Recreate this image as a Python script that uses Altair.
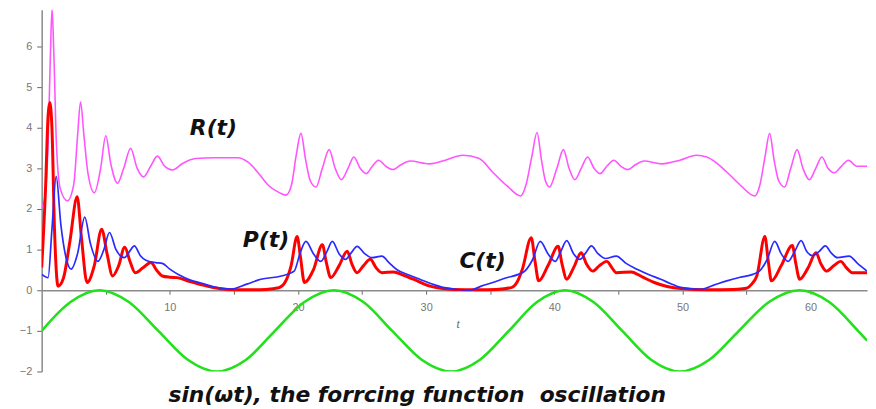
import altair as alt
import pandas as pd

# ---- data ----
R_t = [0, 0.25, 0.5, 0.68, 0.81, 0.95, 1.15, 1.45, 2.0, 2.5, 2.8, 3.03, 3.3, 3.6, 4.11, 4.6, 5.0, 5.4, 5.91,
       6.4, 6.94, 7.45, 7.95, 8.5, 9.03, 9.6, 10.2, 11.0, 12.0, 13.5, 15.3, 16.1, 17.0, 17.66, 18.43, 19.07,
       19.5, 19.85, 20.23, 20.6, 20.95, 21.4, 21.9, 22.43, 22.9, 23.38, 23.9, 24.36, 24.85, 25.33, 25.8, 26.29,
       26.85, 27.4, 28.0, 28.73, 30.28, 31.5, 32.86, 34.14, 35.18, 36.34, 37.37, 37.8, 38.25, 38.65, 39.0, 39.3,
       39.63, 40.2, 40.71, 41.15, 41.6, 42.1, 42.6, 43.1, 43.55, 44.1, 44.65, 45.2, 45.73, 46.3, 47.0, 48.4,
       49.8, 51.1, 51.9, 53.46, 54.5, 55.66, 56.05, 56.45, 56.8, 57.15, 57.5, 57.97, 58.45, 58.95, 59.4, 59.9,
       60.4, 60.88, 61.35, 61.84, 62.4, 62.95, 63.6, 64.4]
R_v = [2.02, 2.3, 3.6, 5.8, 6.93, 5.8, 3.6, 2.5, 2.2, 2.6, 3.8, 4.63, 3.8, 2.9, 2.4, 3.0, 3.8, 3.1, 2.63,
       3.0, 3.49, 3.0, 2.79, 3.05, 3.3, 3.05, 2.96, 3.12, 3.24, 3.26, 3.26, 3.15, 2.85, 2.59, 2.42, 2.34,
       2.6, 3.3, 3.86, 3.2, 2.7, 2.54, 3.0, 3.46, 3.0, 2.72, 3.0, 3.28, 3.0, 2.87, 3.05, 3.2,
       3.05, 2.97, 3.08, 3.18, 3.11, 3.2, 3.32, 3.24, 2.91, 2.56, 2.32, 2.6, 3.3, 3.88, 3.2, 2.7,
       2.54, 3.0, 3.46, 3.0, 2.72, 3.0, 3.28, 3.0, 2.87, 3.05, 3.2, 3.05, 2.97, 3.08, 3.18, 3.11,
       3.2, 3.32, 3.28, 2.91, 2.59, 2.32, 2.6, 3.3, 3.86, 3.2, 2.7, 2.54, 3.0, 3.46, 3.0, 2.72,
       3.0, 3.28, 3.0, 2.89, 3.05, 3.2, 3.05, 3.05]

P_t = [0, 0.3, 0.5, 0.63, 0.8, 1.0, 1.28, 1.7, 2.2, 2.77, 3.1, 3.54, 4.1, 4.68, 5.1, 5.53, 6.0, 6.48, 6.9,
       7.3, 7.9, 8.52, 9.0, 9.41, 10.0, 10.57, 11.5, 12.5, 13.3, 14.5, 16.0, 17.5, 18.5, 19.0, 19.46, 19.93,
       20.2, 20.5, 21.2, 21.9, 22.2, 22.55, 23.2, 23.84, 24.2, 24.6, 25.1, 25.64, 26.1, 26.55, 27.45, 28.2,
       29.0, 30.3, 32.1, 34.0, 35.5, 36.7, 37.1, 37.5, 38.2, 38.5, 38.78, 39.5, 40.3, 40.6, 40.97, 41.5,
       42.1, 42.5, 43.0, 43.5, 44.1, 44.5, 44.84, 46.0, 46.9, 47.8, 49.86, 52.0, 54.0, 55.0, 55.4, 55.8,
       56.43, 56.7, 56.94, 57.7, 58.57, 58.85, 59.14, 59.8, 60.42, 60.8, 61.24, 61.8, 62.35, 62.8, 63.25, 64.4]
P_v = [0.56, 2.5, 4.3, 4.62, 4.0, 1.5, 0.1, 0.3, 1.2, 2.3, 1.3, 0.19, 0.6, 1.5, 0.9, 0.35, 0.6, 1.06, 0.7,
       0.43, 0.55, 0.68, 0.48, 0.35, 0.32, 0.31, 0.22, 0.13, 0.07, 0.02, 0.01, 0.02, 0.06, 0.2, 0.6, 1.32,
       0.8, 0.19, 0.5, 1.12, 0.7, 0.31, 0.6, 0.96, 0.65, 0.43, 0.6, 0.76, 0.55, 0.43, 0.45, 0.37,
       0.27, 0.1, 0.02, 0.01, 0.02, 0.07, 0.2, 0.51, 1.29, 0.7, 0.23, 0.6, 1.08, 0.65, 0.27, 0.55,
       0.92, 0.65, 0.47, 0.6, 0.71, 0.55, 0.43, 0.45, 0.32, 0.19, 0.04, 0.01, 0.02, 0.05, 0.15, 0.35,
       1.32, 0.7, 0.23, 0.6, 1.1, 0.65, 0.27, 0.55, 0.92, 0.65, 0.47, 0.6, 0.71, 0.55, 0.43, 0.43]

C_t = [0, 0.5, 0.8, 1.13, 1.5, 1.9, 2.3, 2.8, 3.36, 3.8, 4.39, 4.85, 5.29, 5.8, 6.45, 6.85, 7.23, 7.7, 8.13,
       8.9, 9.41, 10.0, 10.7, 11.5, 12.5, 13.5, 14.8, 16.0, 17.1, 18.7, 19.7, 20.2, 20.62, 21.2, 21.78,
       22.25, 22.68, 23.2, 23.71, 24.15, 24.61, 25.2, 25.77, 26.55, 27.1, 27.7, 28.6, 29.5, 30.4, 31.3,
       33.4, 34.3, 35.2, 36.2, 37.2, 37.7, 38.3, 38.9, 39.5, 40.07, 40.5, 40.97, 41.5, 42.0, 42.45, 42.9,
       43.4, 44.0, 44.84, 45.6, 46.5, 47.4, 48.3, 49.1, 49.86, 51.4, 52.4, 53.46, 54.5, 55.5, 56.0, 56.6,
       57.2, 57.7, 58.24, 58.75, 59.26, 59.7, 60.16, 60.65, 61.15, 61.6, 62.1, 63.0, 63.7, 64.4]
C_v = [0.39, 0.31, 1.5, 2.8, 1.6, 0.8, 0.52, 0.9, 1.8, 1.15, 0.71, 1.0, 1.42, 1.0, 0.8, 0.95, 1.09, 0.85, 0.74,
       0.68, 0.66, 0.52, 0.38, 0.26, 0.17, 0.08, 0.03, 0.15, 0.27, 0.35, 0.47, 0.95, 1.2, 0.9, 0.71,
       0.95, 1.2, 0.9, 0.76, 0.92, 1.08, 0.9, 0.8, 0.84, 0.68, 0.51, 0.38, 0.27, 0.16, 0.07,
       0.0, 0.1, 0.19, 0.3, 0.39, 0.47, 0.75, 1.2, 0.9, 0.71, 0.95, 1.22, 0.9, 0.76, 0.92, 1.09,
       0.9, 0.78, 0.84, 0.66, 0.51, 0.38, 0.27, 0.16, 0.07, 0.02, 0.12, 0.23, 0.32, 0.39, 0.47, 0.75,
       1.2, 0.9, 0.71, 0.95, 1.22, 0.95, 0.85, 0.95, 1.09, 0.92, 0.8, 0.84, 0.65, 0.47]

G_t = [0, 2.25, 4.5, 6.8, 9.1, 11.4, 13.66, 15.95, 18.2, 20.5, 22.8, 25.1, 27.35, 29.65, 31.95, 34.2,
       36.45, 38.65, 40.84, 43.05, 45.3, 47.55, 49.8, 52.1, 54.4, 56.75, 59.13, 61.45, 63.7, 64.4]
G_v = [-1, -0.29, 0, -0.29, -1, -1.71, -2, -1.71, -1, -0.29, 0, -0.29, -1, -1.71, -2, -1.71,
       -1, -0.29, 0, -0.29, -1, -1.71, -2, -1.71, -1, -0.29, 0, -0.29, -1, -1.24]

label_text = ["R(t)", "P(t)", "C(t)"]
label_t = [13.4, 17.5, 34.4]
label_y = [3.98, 1.24, 0.71]

caption = "sin(\u03c9t), the forrcing function \u00a0oscillation"
caption_t = [29.3]
caption_y = [-2.58]

xticks = [5, 10, 15, 20, 25, 30, 35, 40, 45, 50, 55, 60]
yticks = [-2, -1.5, -1, -0.5, 0, 0.5, 1, 1.5, 2, 2.5, 3, 3.5, 4, 4.5, 5, 5.5, 6, 6.5]

XDOM = [0, 64.4]
YDOM = [-2, 6.9]

xscale = alt.Scale(domain=XDOM, nice=False, zero=False)
yscale = alt.Scale(domain=YDOM, nice=False, zero=False)

xaxis = alt.Axis(values=xticks, labelExpr="datum.value % 10 == 0 ? datum.label : ''",
                 offset=-82, grid=False, title=None, domainColor="#8a8a8a", domainWidth=1.5,
                 tickColor="#666666", tickSize=4, labelColor="#777777", labelFontSize=11,
                 labelFont="Liberation Sans", labelPadding=7)
yaxis = alt.Axis(values=yticks, labelExpr="datum.value % 1 == 0 ? datum.label : ''",
                 grid=False, title=None, domainColor="#8a8a8a", domainWidth=1.5,
                 tickColor="#666666", tickSize=5, labelColor="#777777", labelFontSize=11,
                 labelFont="Liberation Sans", labelPadding=5, format="d")

X = alt.X("t:Q", scale=xscale, axis=xaxis)
Y = alt.Y("v:Q", scale=yscale, axis=yaxis)


def series(ts, vs, color, width):
    df = pd.DataFrame({"t": ts, "v": vs})
    return alt.Chart(df).mark_line(color=color, strokeWidth=width, interpolate="monotone",
                                   clip=True).encode(x=X, y=Y)


r_line = series(R_t, R_v, "#ff55ff", 1.6)
g_line = series(G_t, G_v, "#22e01a", 2.6)
p_line = series(P_t, P_v, "#ff0000", 3.0)
c_line = series(C_t, C_v, "#2a2aff", 1.7)

FONT = "DejaVu Sans"

lab_df = pd.DataFrame({"t": label_t, "v": label_y, "txt": label_text})
labels = alt.Chart(lab_df).mark_text(font=FONT, fontSize=22, fontWeight="bold", fontStyle="italic",
                                     color="#111111").encode(x=X, y=Y, text="txt:N")

cap_df = pd.DataFrame({"t": caption_t, "v": caption_y, "txt": [caption]})
cap = alt.Chart(cap_df).mark_text(font=FONT, fontSize=22, fontWeight="bold", fontStyle="italic",
                                  color="#111111").encode(x=X, y=Y, text="txt:N")

tlab_df = pd.DataFrame({"t": [32.5], "v": [-0.83], "txt": ["t"]})
tlab = alt.Chart(tlab_df).mark_text(font="Liberation Serif", fontSize=12, fontStyle="italic",
                                    color="#666666").encode(x=X, y=Y, text="txt:N")

chart = alt.layer(r_line, g_line, p_line, c_line, labels, cap, tlab).properties(
    width=833, height=365,
    background="white",
    autosize=alt.AutoSizeParams(type="none"),
    padding={"left": 34, "top": 0, "right": 1, "bottom": 36},
).configure_view(stroke="transparent", strokeWidth=0)

chart.save("out.html", embed_options={"renderer": "svg", "actions": False})
